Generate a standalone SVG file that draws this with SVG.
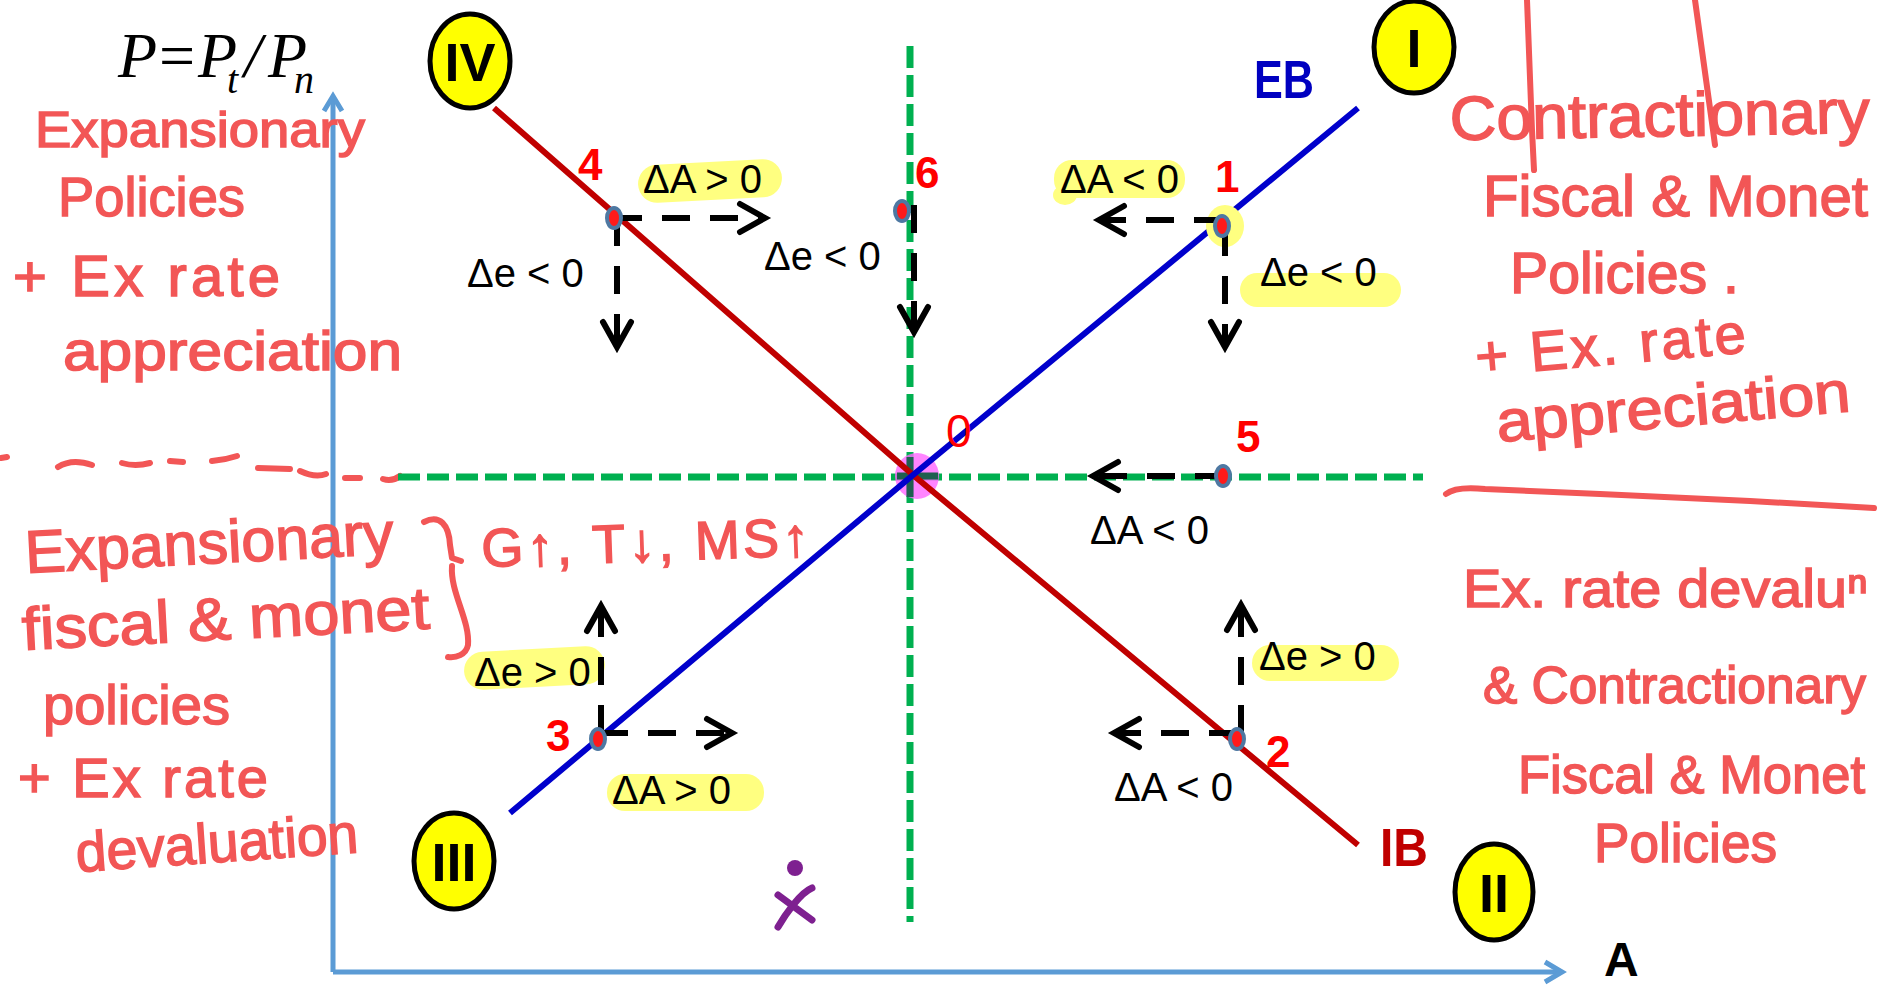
<svg xmlns="http://www.w3.org/2000/svg" width="1883" height="987" viewBox="0 0 1883 987">
<style>
.lbl{font-family:"Liberation Sans",Arial,sans-serif;font-size:40px;fill:#000}
.num{font-family:"Liberation Sans",Arial,sans-serif;font-size:44px;font-weight:bold;fill:#FF0000}
.rom{font-family:"Liberation Sans",Arial,sans-serif;font-size:54px;font-weight:bold;fill:#000;text-anchor:middle}
.quad{fill:#FFFF00;stroke:#000;stroke-width:5}
.hl{fill:#FFFF80}
.hw{font-family:"Liberation Sans","DejaVu Sans",sans-serif;fill:#F25656;stroke:#F25656;stroke-width:1.5}
.ink{fill:none;stroke:#F25656;stroke-width:6;stroke-linecap:round;stroke-linejoin:round}
.green{stroke:#00B050;stroke-width:7;stroke-dasharray:22 7;fill:none}
.arr{stroke:#000;stroke-width:6;stroke-dasharray:28 20;fill:none;marker-end:url(#chev)}
.pt{stroke:#4E78A2;stroke-width:4;fill:#FF1A1A}
.axis{stroke:#5B9BD5;stroke-width:5;fill:none}
.f{font-family:"Liberation Serif","Times New Roman",serif;font-size:64px;fill:#000}
</style>
<defs>
<marker id="chev" markerUnits="userSpaceOnUse" viewBox="0 0 40 40" refX="33" refY="20" markerWidth="40" markerHeight="40" orient="auto" overflow="visible">
<path d="M8,6 L33,20 L8,34" fill="none" stroke="#000" stroke-width="6" stroke-dasharray="none" stroke-linejoin="miter" stroke-linecap="round"/>
</marker>
</defs>
<rect width="1883" height="987" fill="#fff"/>

<g id="axes">
<path class="axis" d="M333,972 L333,97"/>
<path class="axis" d="M324,111 L333,96 L342,111"/>
<path class="axis" d="M333,972 L1561,972"/>
<path class="axis" d="M1545,962 L1562,972 L1545,982"/>
<text x="1604" y="976" font-family="Liberation Sans,Arial,sans-serif" font-size="48" font-weight="bold" fill="#000">A</text>
</g>

<g id="formula">
<text class="f"><tspan x="118" y="77" font-style="italic">P</tspan><tspan x="159" y="77">=</tspan><tspan x="198" y="77" font-style="italic">P</tspan><tspan x="227" y="93" font-size="40" font-style="italic">t</tspan><tspan x="244" y="77" font-style="italic">/</tspan><tspan x="268" y="77" font-style="italic">P</tspan><tspan x="294" y="93" font-size="40" font-style="italic">n</tspan></text>
</g>

<g id="annotation-ink">
<path class="ink" d="M1527,0 L1532,130 L1534,170"/>
<path class="ink" d="M1695,0 L1713,130 L1715,145"/>
<path class="ink" d="M1446,494 Q1456,486 1485,489 L1600,494 L1750,501 L1874,508"/>
<path class="ink" stroke-width="5" d="M1,458 L7,457 M58,467 Q72,458 92,465 M122,463 Q135,467 150,463 M170,461 L183,462 M212,461 Q225,460 237,456 M258,468 L290,469 M300,471 Q315,478 326,474 M345,478 L360,478 M383,479 Q392,482 400,476"/>
<path class="ink" d="M424,522 C440,514 449,525 450,545 L452,558 L461,561 M452,566 C450,592 470,620 468,645 C466,655 456,658 448,657"/>
</g>

<g id="gridlines">
<path class="green" d="M910,46 L910,922"/>
<path class="green" d="M398,477 L1423,477"/>
<ellipse cx="917" cy="476" rx="22" ry="23" fill="#FF66FF" opacity="0.8"/>
<path d="M897,476 L938,476 M910,457 L910,497" stroke="#1F5F50" stroke-width="7" fill="none"/>
</g>

<g id="curves">
<polyline id="IB-line" points="494,108 913,475 1358,845" fill="none" stroke="#C00000" stroke-width="6"/>
<polyline id="EB-line" points="510,813 913,475 1358,108" fill="none" stroke="#0000CC" stroke-width="6"/>
</g>

<g id="highlights">
<rect class="hl" x="638" y="162" width="144" height="38" rx="19" transform="rotate(-3 710 181)"/>
<rect class="hl" x="1054" y="160" width="131" height="38" rx="18"/>
<ellipse class="hl" cx="1065" cy="195" rx="12" ry="10"/>
<ellipse class="hl" cx="1225" cy="226" rx="19" ry="21"/>
<rect class="hl" x="1240" y="273" width="161" height="34" rx="17"/>
<rect class="hl" x="1252" y="645" width="147" height="36" rx="18"/>
<rect class="hl" x="464" y="649" width="141" height="38" rx="19" transform="rotate(-3 534 668)"/>
<rect class="hl" x="607" y="774" width="157" height="37" rx="18"/>
</g>

<g id="connectors">
<path class="arr" d="M614,218 L765,218"/>
<path class="arr" d="M617,218 L617,347"/>
<path class="arr" d="M914,205 L914,332"/>
<path class="arr" d="M1222,220 L1099,220"/>
<path class="arr" d="M1225,228 L1225,347"/>
<path class="arr" d="M1223,476 L1093,476"/>
<path class="arr" d="M1237,733 L1114,733"/>
<path class="arr" d="M1241,733 L1241,605"/>
<path class="arr" d="M600,733 L732,733"/>
<path class="arr" d="M601,733 L601,606"/>
</g>

<g id="point-4"><ellipse class="pt" cx="614" cy="218" rx="7" ry="10"/><text class="num" x="578" y="180">4</text></g>
<g id="point-6"><ellipse class="pt" cx="902" cy="211" rx="7" ry="10"/><text class="num" x="915" y="188">6</text></g>
<g id="point-1"><ellipse class="pt" cx="1222" cy="226" rx="7" ry="10" stroke="#557A66"/><text class="num" x="1215" y="192">1</text></g>
<g id="point-5"><ellipse class="pt" cx="1223" cy="476" rx="7" ry="10"/><text class="num" x="1236" y="452">5</text></g>
<g id="point-2"><ellipse class="pt" cx="1237" cy="739" rx="7" ry="10"/><text class="num" x="1266" y="767">2</text></g>
<g id="point-3"><ellipse class="pt" cx="598" cy="739" rx="7" ry="10"/><text class="num" x="546" y="751">3</text></g>
<g id="point-0"><text x="946" y="447" font-family="Liberation Sans,Arial,sans-serif" font-size="46" fill="#FF0000">0</text></g>

<g id="labels">
<text class="lbl" x="643" y="193">ΔA &gt; 0</text>
<text class="lbl" x="467" y="287">Δe &lt; 0</text>
<text class="lbl" x="764" y="270">Δe &lt; 0</text>
<text class="lbl" x="1060" y="193">ΔA &lt; 0</text>
<text class="lbl" x="1260" y="286">Δe &lt; 0</text>
<text class="lbl" x="1090" y="544">ΔA &lt; 0</text>
<text class="lbl" x="1259" y="670">Δe &gt; 0</text>
<text class="lbl" x="1114" y="801">ΔA &lt; 0</text>
<text class="lbl" x="474" y="686">Δe &gt; 0</text>
<text class="lbl" x="612" y="804">ΔA &gt; 0</text>
</g>

<g id="EB"><text x="1254" y="98" font-family="Liberation Sans,Arial,sans-serif" font-size="54" font-weight="bold" fill="#0000C0" textLength="60" lengthAdjust="spacingAndGlyphs">EB</text></g>
<g id="IB"><text x="1380" y="866" font-family="Liberation Sans,Arial,sans-serif" font-size="54" font-weight="bold" fill="#C00000" textLength="48" lengthAdjust="spacingAndGlyphs">IB</text></g>

<g id="quadrant-IV"><ellipse class="quad" cx="470" cy="61" rx="40" ry="47"/><text class="rom" x="470" y="81">IV</text></g>
<g id="quadrant-I"><ellipse class="quad" cx="1414" cy="47" rx="40" ry="46"/><text class="rom" x="1414" y="67">I</text></g>
<g id="quadrant-III"><ellipse class="quad" cx="454" cy="861" rx="40" ry="48"/><text class="rom" x="454" y="881">III</text></g>
<g id="quadrant-II"><ellipse class="quad" cx="1494" cy="892" rx="39" ry="48"/><text class="rom" x="1494" y="912">II</text></g>

<g id="note-top-left">
<text class="hw" x="35" y="147" font-size="50" textLength="330" lengthAdjust="spacingAndGlyphs">Expansionary</text>
<text class="hw" x="58" y="216" font-size="56" textLength="187" lengthAdjust="spacingAndGlyphs">Policies</text>
<text class="hw" x="13" y="296" font-size="58" textLength="267" lengthAdjust="spacing">+ Ex rate</text>
<text class="hw" x="63" y="370" font-size="56" textLength="339" lengthAdjust="spacingAndGlyphs">appreciation</text>
</g>

<g id="note-top-right">
<text class="hw" x="1450" y="140" font-size="62" textLength="420" lengthAdjust="spacingAndGlyphs" transform="rotate(-1 1450 140)">Contractionary</text>
<text class="hw" x="1483" y="216" font-size="58" textLength="385" lengthAdjust="spacingAndGlyphs">Fiscal &amp; Monet</text>
<text class="hw" x="1510" y="293" font-size="58" textLength="229" lengthAdjust="spacingAndGlyphs">Policies .</text>
<text class="hw" x="1477" y="376" font-size="56" textLength="271" lengthAdjust="spacing" transform="rotate(-5 1477 376)">+ Ex. rate</text>
<text class="hw" x="1498" y="442" font-size="58" textLength="355" lengthAdjust="spacingAndGlyphs" transform="rotate(-5 1498 442)">appreciation</text>
</g>

<g id="note-bottom-right">
<text class="hw" x="1463" y="607" font-size="54" textLength="405" lengthAdjust="spacingAndGlyphs">Ex. rate devaluⁿ</text>
<text class="hw" x="1483" y="703" font-size="52" textLength="383" lengthAdjust="spacingAndGlyphs">&amp; Contractionary</text>
<text class="hw" x="1518" y="793" font-size="54" textLength="347" lengthAdjust="spacingAndGlyphs">Fiscal &amp; Monet</text>
<text class="hw" x="1594" y="862" font-size="56" textLength="183" lengthAdjust="spacingAndGlyphs">Policies</text>
</g>

<g id="note-bottom-left">
<text class="hw" x="26" y="573" font-size="60" textLength="369" lengthAdjust="spacingAndGlyphs" transform="rotate(-3 26 573)">Expansionary</text>
<text class="hw" x="23" y="650" font-size="60" textLength="408" lengthAdjust="spacingAndGlyphs" transform="rotate(-3 23 650)">fiscal &amp; monet</text>
<text class="hw" x="43" y="724" font-size="56" textLength="187" lengthAdjust="spacingAndGlyphs">policies</text>
<text class="hw" x="18" y="797" font-size="56" textLength="250" lengthAdjust="spacing">+ Ex rate</text>
<text class="hw" x="77" y="872" font-size="56" textLength="283" lengthAdjust="spacingAndGlyphs" transform="rotate(-4 77 872)">devaluation</text>
<text class="hw" x="482" y="567" font-size="54" textLength="328" lengthAdjust="spacing" transform="rotate(-2 482 567)">G↑, T↓, MS↑</text>
</g>

<g id="purple-mark">
<circle cx="795" cy="868" r="8" fill="#7E2090"/>
<path d="M778,895 L812,920 M812,888 C800,893 785,915 778,927" fill="none" stroke="#7E2090" stroke-width="7" stroke-linecap="round"/>
</g>
</svg>
